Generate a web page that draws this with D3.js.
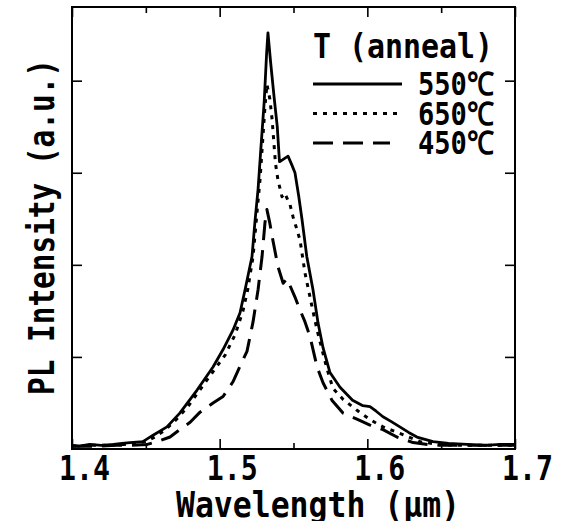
<!DOCTYPE html>
<html>
<head>
<meta charset="utf-8">
<script src="https://cdn.jsdelivr.net/npm/d3@7"></script>
<style>
	body{margin:0;background:#fff}
	svg{display:block}
	.axis path{display:none}
	.axis line{stroke:#000;stroke-width:1.6}
</style>
</head>
<body>
<div class="chart"></div>
<script>
// PL spectra: wavelength (um) and intensity (a.u.)
const wl550=[1.400,1.405,1.412,1.420,1.428,1.434,1.4393,1.448,1.4549,1.4643,1.473,1.4847,1.4955,1.5023,1.509,1.5138,1.5172,1.5219,1.5239,1.526,1.5278,1.5302,1.5318,1.5327,1.5345,1.5370,1.5390,1.5405,1.5425,1.5463,1.5490,1.5510,1.5535,1.5557,1.5590,1.5632,1.5666,1.5700,1.5747,1.5815,1.5900,1.5970,1.6018,1.6060,1.6106,1.6160,1.6220,1.6280,1.6336,1.6445,1.6550,1.6675,1.6800,1.6900,1.7000]
const pl550=[0.04,0.03,0.05,0.04,0.05,0.06,0.07,0.08,0.15,0.24,0.39,0.64,0.89,1.08,1.29,1.48,1.73,2.09,2.47,2.82,3.24,3.78,4.30,4.52,4.20,3.80,3.50,3.12,3.14,3.18,3.08,3.00,2.75,2.50,2.09,1.73,1.37,1.10,0.83,0.67,0.53,0.47,0.46,0.41,0.35,0.30,0.24,0.18,0.13,0.08,0.06,0.05,0.04,0.05,0.05]

const wl650=[1.400,1.412,1.425,1.435,1.443,1.450,1.4560,1.4633,1.4706,1.478,1.4847,1.4955,1.5037,1.5104,1.5158,1.5190,1.5226,1.5253,1.5273,1.5293,1.5307,1.5320,1.5340,1.5355,1.5378,1.5395,1.5422,1.5440,1.5477,1.5497,1.5520,1.5544,1.5578,1.5626,1.5660,1.5693,1.5727,1.5767,1.5835,1.5930,1.6018,1.6106,1.6220,1.6357,1.6480,1.6600,1.6800,1.7000]
const pl650=[0.03,0.04,0.04,0.05,0.06,0.08,0.13,0.21,0.32,0.45,0.60,0.84,1.02,1.24,1.50,1.73,2.09,2.57,2.92,3.39,3.72,3.96,3.80,3.58,3.10,2.92,2.74,2.78,2.65,2.52,2.40,2.27,1.91,1.54,1.29,1.08,0.87,0.66,0.54,0.42,0.32,0.24,0.17,0.08,0.05,0.04,0.04,0.04]

const wl450=[1.400,1.415,1.430,1.440,1.451,1.4576,1.4664,1.4730,1.4800,1.4867,1.4955,1.5023,1.5090,1.5158,1.5185,1.5226,1.5260,1.5287,1.5307,1.5320,1.5340,1.5360,1.5395,1.5430,1.5456,1.5510,1.5544,1.5578,1.5612,1.5660,1.5700,1.5760,1.5835,1.5937,1.6018,1.6106,1.6200,1.6310,1.6450,1.6600,1.6800,1.7000]
const pl450=[0.03,0.03,0.04,0.04,0.05,0.08,0.13,0.21,0.29,0.40,0.50,0.57,0.73,0.97,1.06,1.38,1.73,2.09,2.46,2.60,2.45,2.27,1.98,1.80,1.85,1.65,1.51,1.38,1.22,0.89,0.72,0.53,0.39,0.32,0.26,0.21,0.13,0.07,0.04,0.04,0.04,0.04]

const seriesNames=['550℃','650℃','450℃']
const majorX=[1.4,1.5,1.6,1.7]
const minorX=[1.45,1.55,1.65]
const yTicks=[1,2,3,4]

const series=[
	{name:seriesNames[0],wl:wl550,pl:pl550,dash:null},
	{name:seriesNames[1],wl:wl650,pl:pl650,dash:'4,6'},
	{name:seriesNames[2],wl:wl450,pl:pl450,dash:'20,10'}
]

const margin=({top:7,right:48,bottom:72,left:72})
const W=563,H=521
const width=W-margin.left-margin.right,
	height=H-margin.top-margin.bottom
const FONT="'DejaVu Sans Mono', monospace"

const svg=d3.select('.chart').append('svg')
	.attr('width',W)
	.attr('height',H)
const g=svg.append('g')
	.attr('transform','translate('+margin.left+','+margin.top+')')

const xScale=d3.scaleLinear().domain([1.4,1.7]).range([0,width])
const yScale=d3.scaleLinear().domain([0,4.8]).range([height,0])

// inward ticks on all four sides
g.append('g').attr('class','axis')
	.attr('transform',`translate(0,${height})`)
	.call(d3.axisBottom(xScale).tickValues(majorX).tickSizeInner(-10).tickSizeOuter(0).tickFormat(''))
g.append('g').attr('class','axis')
	.attr('transform',`translate(0,${height})`)
	.call(d3.axisBottom(xScale).tickValues(minorX).tickSizeInner(-6).tickSizeOuter(0).tickFormat(''))
g.append('g').attr('class','axis')
	.call(d3.axisTop(xScale).tickValues(majorX).tickSizeInner(-10).tickSizeOuter(0).tickFormat(''))
g.append('g').attr('class','axis')
	.call(d3.axisTop(xScale).tickValues(minorX).tickSizeInner(-6).tickSizeOuter(0).tickFormat(''))
g.append('g').attr('class','axis')
	.call(d3.axisLeft(yScale).tickValues(yTicks).tickSizeInner(-10).tickSizeOuter(0).tickFormat(''))
g.append('g').attr('class','axis')
	.attr('transform',`translate(${width},0)`)
	.call(d3.axisRight(yScale).tickValues(yTicks).tickSizeInner(-10).tickSizeOuter(0).tickFormat(''))

// curves
const line=d3.line()
	.x(d=>xScale(d[0]))
	.y(d=>yScale(d[1]))

series.forEach(function(s){
	const pts=s.wl.map((w,i)=>[w,s.pl[i]])
	g.append('path')
		.datum(pts)
		.attr('d',line)
		.attr('fill','none')
		.attr('stroke','#000')
		.attr('stroke-width',s.dash?3:2.8)
		.attr('stroke-linejoin','round')
		.attr('stroke-dasharray',s.dash)
})

// frame
g.append('rect')
	.attr('x',0).attr('y',0)
	.attr('width',width).attr('height',height)
	.attr('fill','none')
	.attr('stroke','#000')
	.attr('stroke-width',2)

function txt(parent,s,x,y,size,len){
	return parent.append('text')
		.attr('x',x).attr('y',y)
		.attr('font-family',FONT)
		.attr('font-weight','bold')
		.attr('font-size',size)
		.attr('textLength',len)
		.attr('lengthAdjust','spacingAndGlyphs')
		.text(s)
}

// tick labels
majorX.forEach(function(v){
	txt(g,d3.format('.1f')(v),xScale(v)-13,height+31,34,51)
})

// axis titles
txt(g,'Wavelength (μm)',104,height+68,36,284)
txt(svg,'PL Intensity (a.u.)',0,0,35,336)
	.attr('text-anchor','middle')
	.attr('transform','translate(54,227) rotate(-90)')

// legend
const leg=svg.append('g').attr('transform','translate(313,0)')
txt(leg,'T (anneal)',0,58,33,180)
series.forEach(function(s,i){
	const yy=84+i*29.5
	leg.append('line')
		.attr('x1',0).attr('x2',i==2?77:89)
		.attr('y1',yy).attr('y2',yy)
		.attr('stroke','#000')
		.attr('stroke-width',3)
		.attr('stroke-dasharray',s.dash)
	txt(leg,s.name,105,yy+11,32,76)
})
</script>
</body>
</html>
